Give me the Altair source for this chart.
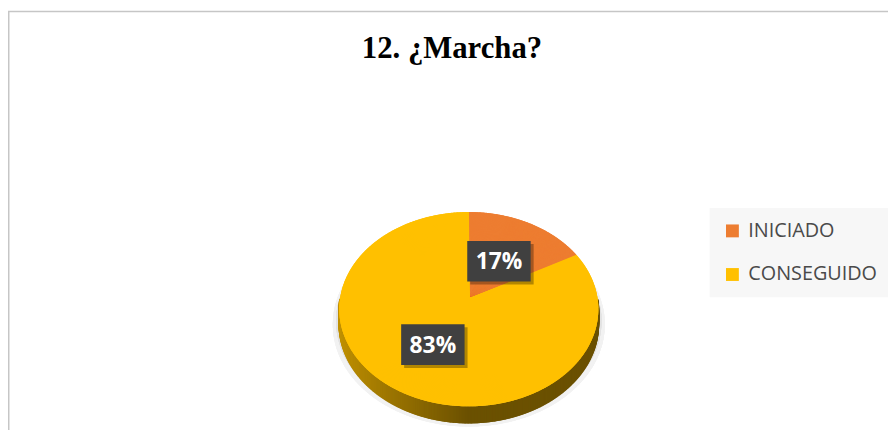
import altair as alt
import pandas as pd

# ---------------- data ----------------
TITLE = "12. ¿Marcha?"
CATEGORIES = ["INICIADO", "CONSEGUIDO"]
VALUES = [17, 83]
COLORS = ["#ED7D31", "#FFC000"]

# ---------------- geometry / layout ----------------
W, H = 888, 424          # chart (view) size
CX, CY = 465, 292        # pie centre inside the view, px
RX, RY = 130, 97         # pie radii on screen
K = 0.102                # perspective factor
DEPTH = 15.5             # thickness of the 3-D side
STEP = 0.3               # angular resolution, degrees

TOTAL = sum(VALUES)


def hex_rgb(h):
    h = h.lstrip("#")
    return [int(h[i:i + 2], 16) for i in (0, 2, 4)]


bounds = []
acc = 0
for c, v in zip(CATEGORIES, VALUES):
    acc += v
    bounds.append((360.0 * acc / TOTAL, c))


def nested(vals):
    expr = vals[-1]
    for (b, _c), val in reversed(list(zip(bounds[:-1], vals[:-1]))):
        expr = f"(datum.a < {b:.4f} ? {val} : {expr})"
    return expr


CAT_EXPR = nested([f"'{c}'" for c in CATEGORIES])
R_EXPR = nested([str(hex_rgb(c)[0]) for c in COLORS])
G_EXPR = nested([str(hex_rgb(c)[1]) for c in COLORS])
B_EXPR = nested([str(hex_rgb(c)[2]) for c in COLORS])

xs = alt.Scale(domain=[-CX, W - CX], nice=False, zero=False)
ys = alt.Scale(domain=[-(H - CY), CY], nice=False, zero=False)
cat_scale = alt.Scale(domain=CATEGORIES, range=COLORS)


def ring(start, stop, scale=1.0, dy=0.0):
    return (
        alt.Chart(alt.sequence(start, stop, STEP, as_="a"))
        .transform_calculate(t="datum.a * PI / 180")
        .transform_calculate(su="sin(datum.t)")
        .transform_calculate(cv="cos(datum.t)")
        .transform_calculate(dn=f"1 + {K} * datum.cv")
        .transform_calculate(px=f"{scale * RX} * datum.su / datum.dn")
        .transform_calculate(py=f"{scale * RY} * datum.cv / datum.dn + ({dy})")
        .transform_calculate(ox="0")
        .transform_calculate(oy=f"{dy}")
    )


X0 = alt.X("ox:Q", scale=xs, axis=None)
Y0 = alt.Y("oy:Q", scale=ys, axis=None)

# soft shadow under the pie
shadow_outer = ring(0, 360, 1.05, -15).mark_rule(color="#F2F2F2", strokeWidth=2.5).encode(
    x=X0, y=Y0, x2="px:Q", y2="py:Q")
shadow_inner = ring(0, 360, 1.025, -12).mark_rule(color="#E3E3E3", strokeWidth=2.5).encode(
    x=X0, y=Y0, x2="px:Q", y2="py:Q")

# side wall (front half), shaded from left to right
side = (
    ring(90, 270 + STEP, 1.0, 0)
    .transform_calculate(py2=f"datum.py - {DEPTH} / datum.dn")
    .transform_calculate(f="0.76 - 0.34 * clamp(datum.su + 1, 0, 1)")
    .transform_calculate(
        col=f"'rgb(' + round({R_EXPR} * datum.f) + ',' + round({G_EXPR} * datum.f) + ',' + round({B_EXPR} * datum.f) + ')'"
    )
    .mark_rule(strokeWidth=1.8, strokeCap="butt")
    .encode(
        x=alt.X("px:Q", scale=xs, axis=None),
        y=alt.Y("py:Q", scale=ys, axis=None),
        y2="py2:Q",
        stroke=alt.Stroke("col:N", scale=None),
    )
)

# top face
top = (
    ring(0, 360, 1.0, 0)
    .transform_calculate(cat=CAT_EXPR)
    .mark_rule(strokeWidth=1.6, strokeCap="butt")
    .encode(
        x=X0, y=Y0, x2="px:Q", y2="py:Q",
        stroke=alt.Stroke("cat:N", scale=cat_scale, legend=None),
    )
)

table = pd.DataFrame({"cat": CATEGORIES, "value": VALUES})

# legend carrier (hidden beneath the pie)
legend_layer = (
    alt.Chart(table)
    .transform_calculate(ox="0", oy="0")
    .mark_square(size=1, filled=True, opacity=1)
    .encode(
        x=X0, y=Y0,
        color=alt.Color(
            "cat:N", scale=cat_scale,
            legend=alt.Legend(
                title=None, orient="none", legendX=708, legendY=200,
                fillColor="#F7F7F7", padding=13, symbolType="square",
                symbolSize=169, symbolStrokeWidth=0, symbolOpacity=1,
                labelFont="Open Sans", labelFontSize=20, labelColor="#4A4A4A",
                rowPadding=24, labelOffset=6,
            ),
        ),
    )
)

labels_base = (
    alt.Chart(table)
    .transform_joinaggregate(total="sum(value)")
    .transform_window(cum="sum(value)", frame=[None, 0])
    .transform_calculate(mid="(datum.cum - datum.value / 2) / datum.total * 2 * PI")
    .transform_calculate(pct="datum.value / datum.total")
    .transform_calculate(dd=f"1 + {K} * cos(datum.mid)")
    .transform_calculate(lx=f"0.5 * {RX} * sin(datum.mid) / datum.dd")
    .transform_calculate(ly=f"0.5 * {RY} * cos(datum.mid) / datum.dd")
)
LX = alt.X("lx:Q", scale=xs, axis=None)
LY = alt.Y("ly:Q", scale=ys, axis=None)
BOX = "M-1,-0.64L1,-0.64L1,0.64L-1,0.64Z"

box_shadow = labels_base.mark_point(
    shape=BOX, size=4096, filled=True, color="#000000", opacity=0.3,
    strokeWidth=0, xOffset=3, yOffset=3,
).encode(x=LX, y=LY)
box = labels_base.mark_point(
    shape=BOX, size=4096, filled=True, color="#404040", opacity=1, strokeWidth=0,
).encode(x=LX, y=LY)
box_text = labels_base.mark_text(
    font="Open Sans", fontWeight="bold", fontSize=23, color="white",
    align="center", baseline="middle", dy=1,
).encode(x=LX, y=LY, text=alt.Text("pct:Q", format=".0%"))

title = alt.Chart(pd.DataFrame({"title": [TITLE]})).mark_text(
    font="Liberation Serif", fontWeight="bold", fontSize=31, color="#000000",
    align="center", baseline="alphabetic",
).encode(text="title:N", x=alt.value(448), y=alt.value(49))

one = pd.DataFrame({"k": [0]})
border_left = alt.Chart(one).mark_rule(color="#C6C6C6", strokeWidth=1.5).encode(
    x=alt.value(0.75), y=alt.value(1.5), y2=alt.value(H))
border_top = alt.Chart(one).mark_rule(color="#C6C6C6", strokeWidth=1.5).encode(
    x=alt.value(0), x2=alt.value(W), y=alt.value(1.5))

chart = (
    alt.layer(
        border_left, border_top, shadow_outer, shadow_inner, legend_layer,
        side, top, box_shadow, box, box_text, title,
    )
    .properties(width=W, height=H, padding=0, autosize="none", background="white")
    .configure_view(strokeWidth=0)
)

chart.save("out.html", embed_options={"renderer": "svg", "actions": False})
